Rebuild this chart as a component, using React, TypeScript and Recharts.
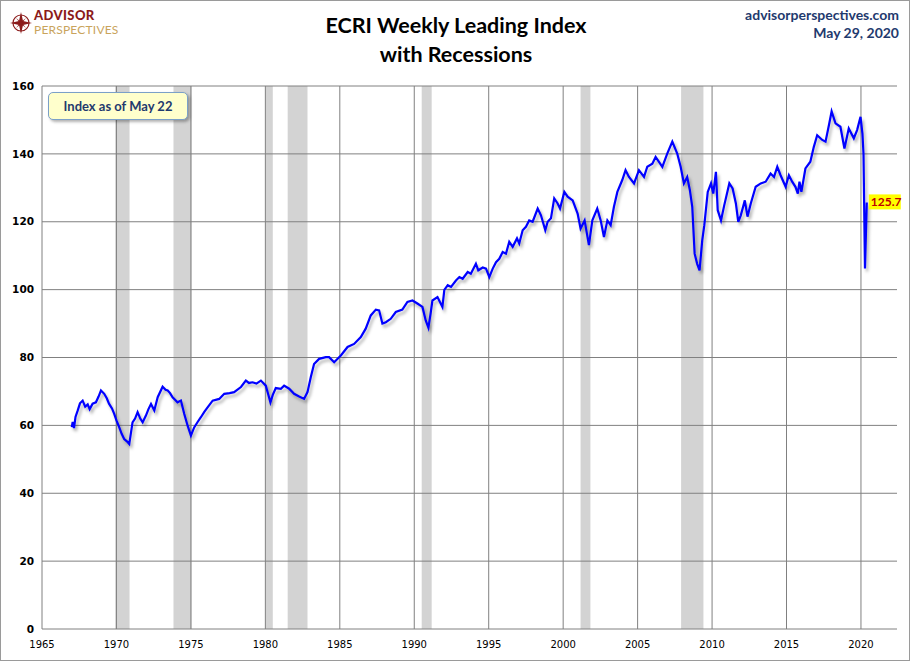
import { LineChart, Line, XAxis, YAxis, ReferenceArea, ReferenceLine } from 'recharts';

// weekly index (decimal year, value)
const years = [
  1967.0, 1967.06, 1967.15, 1967.25, 1967.4, 1967.55, 1967.73, 1967.9, 1968.07, 1968.2,
  1968.4, 1968.62, 1968.8, 1968.96, 1969.18, 1969.35, 1969.5, 1969.7, 1969.85, 1970.0,
  1970.19, 1970.35, 1970.52, 1970.7, 1970.86, 1971.08, 1971.25, 1971.42, 1971.6, 1971.76,
  1971.98, 1972.15, 1972.32, 1972.54, 1972.77, 1973.1, 1973.3, 1973.44, 1973.6, 1973.77,
  1973.95, 1974.1, 1974.33, 1974.55, 1974.78, 1975.0, 1975.22, 1975.45, 1975.67, 1975.9,
  1976.12, 1976.46, 1976.9, 1977.24, 1977.6, 1977.9, 1978.36, 1978.69, 1978.9, 1979.14,
  1979.4, 1979.7, 1980.03, 1980.2, 1980.34, 1980.5, 1980.7, 1981.04, 1981.26, 1981.6,
  1981.93, 1982.27, 1982.6, 1982.83, 1983.05, 1983.27, 1983.61, 1984.06, 1984.28, 1984.62,
  1985.07, 1985.52, 1985.96, 1986.41, 1986.74, 1987.08, 1987.42, 1987.64, 1987.86, 1988.09,
  1988.42, 1988.76, 1989.2, 1989.54, 1989.88, 1990.21, 1990.55, 1990.77, 1990.95, 1991.1,
  1991.22, 1991.56, 1991.89, 1992.02, 1992.25, 1992.47, 1992.8, 1993.03, 1993.25, 1993.59,
  1993.8, 1994.14, 1994.3, 1994.6, 1994.82, 1995.04, 1995.27, 1995.49, 1995.71, 1995.94,
  1996.16, 1996.38, 1996.61, 1996.9, 1997.05, 1997.28, 1997.5, 1997.72, 1997.95, 1998.29,
  1998.51, 1998.8, 1998.96, 1999.18, 1999.4, 1999.63, 1999.79, 2000.08, 2000.3, 2000.64,
  2000.97, 2001.17, 2001.44, 2001.73, 2001.96, 2002.29, 2002.52, 2002.74, 2002.97, 2003.19,
  2003.41, 2003.64, 2003.97, 2004.19, 2004.42, 2004.76, 2005.09, 2005.43, 2005.65, 2005.99,
  2006.21, 2006.66, 2006.99, 2007.33, 2007.66, 2007.89, 2008.11, 2008.33, 2008.51, 2008.67,
  2008.83, 2009.0, 2009.16, 2009.34, 2009.48, 2009.71, 2009.93, 2010.08, 2010.26, 2010.38,
  2010.6, 2010.82, 2011.16, 2011.38, 2011.6, 2011.76, 2011.93, 2012.2, 2012.38, 2012.6,
  2012.93, 2013.27, 2013.6, 2013.93, 2014.16, 2014.38, 2014.6, 2014.94, 2015.16, 2015.38,
  2015.6, 2015.76, 2015.87, 2016.0, 2016.27, 2016.6, 2016.83, 2017.06, 2017.4, 2017.62,
  2017.85, 2018.03, 2018.29, 2018.62, 2018.89, 2019.18, 2019.52, 2019.74, 2019.97, 2020.1,
  2020.17, 2020.27, 2020.39,
];

const values = [
  59.5, 61.0, 59.2, 62.5, 64.4, 66.5, 67.3, 65.5, 66.2, 64.8,
  66.4, 66.8, 68.5, 70.3, 69.3, 68.0, 66.4, 65.0, 63.4, 61.5,
  59.4, 57.5, 56.0, 55.3, 54.5, 60.9, 62.0, 63.9, 62.0, 60.9,
  62.9, 64.8, 66.3, 64.4, 68.3, 71.4, 70.5, 70.3, 69.5, 68.3,
  67.5, 66.8, 67.3, 63.4, 59.9, 57.0, 59.4, 61.0, 62.4, 64.0,
  65.3, 67.3, 67.8, 69.3, 69.5, 69.8, 71.3, 73.2, 72.5, 72.7,
  72.3, 73.2, 71.7, 69.0, 66.8, 69.0, 71.0, 70.8, 71.7, 70.8,
  69.3, 68.5, 67.8, 69.8, 74.2, 78.1, 79.6, 80.1, 80.1, 78.6,
  80.6, 83.1, 84.0, 86.0, 88.5, 92.4, 94.1, 93.9, 90.0, 90.4,
  91.4, 93.4, 94.1, 96.4, 96.8, 95.9, 94.9, 90.9, 88.8, 93.0,
  96.8, 97.8, 94.9, 99.9, 101.3, 100.8, 102.7, 103.7, 103.2, 105.2,
  104.7, 107.6, 105.7, 106.5, 106.2, 103.7, 106.2, 108.1, 109.1, 111.1,
  110.6, 114.1, 112.6, 115.1, 113.6, 117.5, 118.5, 120.4, 120.0, 123.9,
  121.9, 117.5, 120.0, 121.0, 126.9, 125.4, 123.9, 128.8, 127.4, 126.3,
  122.4, 118.0, 120.4, 113.1, 120.4, 123.9, 120.4, 115.5, 120.4, 119.0,
  124.4, 128.8, 132.3, 135.2, 133.2, 131.3, 135.2, 133.2, 136.2, 137.1,
  139.1, 136.2, 140.1, 143.6, 140.1, 136.2, 131.3, 133.2, 129.3, 124.4,
  110.6, 107.6, 105.7, 114.5, 119.0, 128.8, 131.3, 128.3, 134.7, 123.4,
  120.4, 124.9, 131.3, 129.8, 125.4, 120.0, 121.9, 126.3, 121.5, 125.4,
  130.3, 131.3, 131.8, 134.2, 133.2, 136.2, 133.7, 130.3, 133.7, 131.8,
  130.3, 128.3, 131.8, 128.8, 135.7, 137.7, 142.0, 145.5, 144.1, 143.6,
  148.5, 152.5, 149.0, 148.0, 141.6, 147.5, 144.6, 147.0, 150.9, 146.0,
  140.0, 106.2, 125.7,
];

// NBER recessions (decimal years)
const recessionStarts = [1969.92, 1973.83, 1980.0, 1981.5, 1990.5, 2001.17, 2007.92];
const recessionEnds = [1970.88, 1975.05, 1980.5, 1982.83, 1991.17, 2001.83, 2009.42];

const xTicks = [1965, 1970, 1975, 1980, 1985, 1990, 1995, 2000, 2005, 2010, 2015, 2020];
const yTicks = [0, 20, 40, 60, 80, 100, 120, 140, 160];

const data = years.map((year, i) => ({ year, value: values[i] }));
const lastIndex = data.length - 1;

const LastLabel = (props: any) => {
  const { x, y, index, value } = props;
  if (index !== lastIndex) return <g />;
  return (
    <g>
      <rect x={x + 2} y={y - 8} width={32} height={15} fill="#ffff00" />
      <text x={x + 4} y={y + 4} fill="#c00000" fontSize={12} fontWeight="bold" fontFamily="Lato, sans-serif">
        {value.toFixed(1)}
      </text>
    </g>
  );
};

function Logo() {
  return (
    <div style={{ position: 'absolute', left: 8, top: 7, display: 'flex', alignItems: 'center' }}>
      <svg width={24} height={24} viewBox="-12 -12 24 24">
        <circle r={8} fill="none" stroke="#8b1a1a" strokeWidth={1.2} />
        <polygon points="0,-11 2,-2 11,0 2,2 0,11 -2,2 -11,0 -2,-2" fill="#8b1a1a" />
        <polygon points="5,-5 1,0 5,5 0,1 -5,5 -1,0 -5,-5 0,-1" fill="#8b1a1a" />
      </svg>
      <div style={{ marginLeft: 1 }}>
        <div style={{ color: '#8b1a1a', fontWeight: 900, fontSize: 13, lineHeight: '15px', letterSpacing: 0.4 }}>ADVISOR</div>
        <div style={{ color: '#c9a45c', fontSize: 12, lineHeight: '14px', letterSpacing: 0.2 }}>PERSPECTIVES</div>
      </div>
    </div>
  );
}

export default function App() {
  return (
    <div
      style={{
        position: 'absolute',
        left: 0,
        top: 0,
        width: 910,
        height: 661,
        boxSizing: 'border-box',
        border: '1px solid #9a9a9a',
        background: '#fff',
        fontFamily: 'Lato, sans-serif',
      }}
    >
      <Logo />
      <div style={{ position: 'absolute', left: 0, top: 10, width: 910, textAlign: 'center', fontSize: 21.5, fontWeight: 'bold', lineHeight: '29px', color: '#000' }}>
        ECRI Weekly Leading Index
        <br />
        with Recessions
      </div>
      <div style={{ position: 'absolute', right: 10, top: 5, textAlign: 'right', fontSize: 14, fontWeight: 'bold', lineHeight: '18px', color: '#1f3a6e' }}>
        advisorperspectives.com
        <br />
        May 29, 2020
      </div>
      <div style={{ position: 'absolute', left: 0, top: 0 }}>
        <LineChart width={908} height={659} data={data} margin={{ top: 85, right: 12, bottom: 1, left: 0 }}>
          <defs>
            <filter id="lineShadow" x="-5%" y="-5%" width="110%" height="110%">
              <feDropShadow dx={2} dy={3} stdDeviation={1.6} floodColor="#000" floodOpacity={0.3} />
            </filter>
          </defs>
          {recessionStarts.map((s, i) => (
            <ReferenceArea key={'r' + i} x1={s} x2={recessionEnds[i]} fill="#d3d3d3" fillOpacity={1} stroke="none" />
          ))}
          {xTicks.slice(1).map((t) => (
            <ReferenceLine key={'x' + t} x={t} stroke="#808080" strokeWidth={1} />
          ))}
          {yTicks.slice(1).map((t) => (
            <ReferenceLine key={'y' + t} y={t} stroke="#808080" strokeWidth={1} />
          ))}
          <XAxis
            dataKey="year"
            type="number"
            domain={[1965, 2022.42]}
            ticks={xTicks}
            allowDataOverflow
            height={30}
            tickSize={0}
            tickMargin={12}
            axisLine={{ stroke: '#808080' }}
            tick={{ fill: '#000', fontSize: 10, fontFamily: 'DejaVu Sans, sans-serif' }}
          />
          <YAxis
            type="number"
            domain={[0, 160]}
            ticks={yTicks}
            width={41}
            tickSize={0}
            tickMargin={8}
            axisLine={{ stroke: '#808080' }}
            tick={{ fill: '#000', fontSize: 10.5, fontWeight: 'bold', fontFamily: 'DejaVu Sans, sans-serif' }}
          />
          <Line
            type="linear"
            dataKey="value"
            stroke="#0000ff"
            strokeWidth={2.2}
            dot={false}
            filter="url(#lineShadow)"
            isAnimationActive={false}
            label={<LastLabel />}
          />
        </LineChart>
      </div>
      <div
        style={{
          position: 'absolute',
          left: 47,
          top: 91,
          width: 140,
          height: 28,
          boxSizing: 'border-box',
          border: '1px solid #7ba0c8',
          borderRadius: 5,
          background: '#ffffcc',
          boxShadow: '2px 2px 3px rgba(0,0,0,0.3)',
          color: '#1f3a6e',
          fontSize: 13,
          fontWeight: 'bold',
          lineHeight: '26px',
          textAlign: 'center',
        }}
      >
        Index as of May 22
      </div>
    </div>
  );
}
